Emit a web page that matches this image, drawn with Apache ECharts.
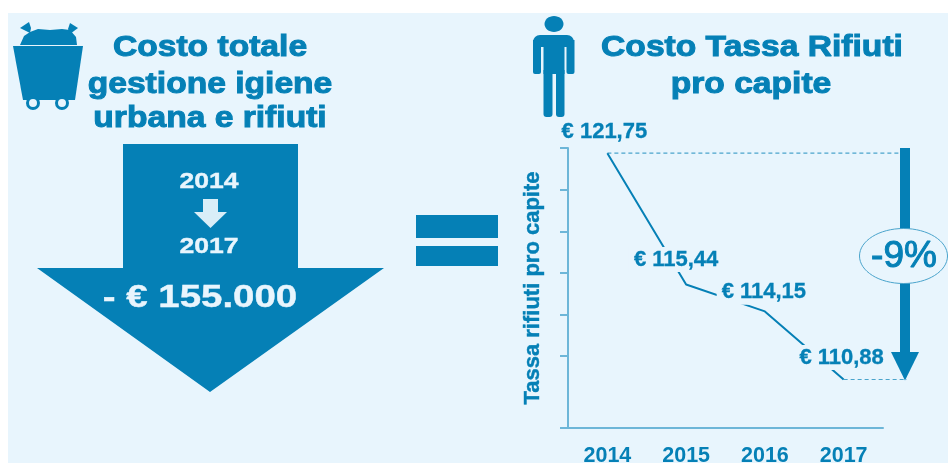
<!DOCTYPE html>
<html>
<head>
<meta charset="utf-8">
<style>html,body{margin:0;padding:0;background:#fff}#c{width:948px;height:463px}</style>
<script src="https://cdn.jsdelivr.net/npm/echarts@6/dist/echarts.min.js"></script>
</head>
<body>
<div id="c"></div>
<script>
// Per-capita waste tax by year
const years = ['2014', '2015', '2016', '2017'];
const taxPerCapita = [121.75, 115.44, 114.15, 110.88];
const tickValues = [108.55, 112, 114, 116, 118, 120, 122];
const axisTitle = 'Tassa rifiuti pro capite';
const leftTitle = ['Costo totale', 'gestione igiene', 'urbana e rifiuti'];
const rightTitle = ['Costo Tassa Rifiuti', 'pro capite'];
const totalSaving = '- € 155.000';
const changeLabel = '-9%';

const DARK = '#0580b6', AXIS = '#6db6d8', PANEL = '#e8f5fd';
const FONT = '"Liberation Sans", Arial, sans-serif';
const labelNudges = [[-3, -8.5], [-10, -12.5], [-1, -6.5], [-2, -9.5]];
const euro = v => '€ ' + v.toFixed(2).replace('.', ',');

const chart = echarts.init(document.getElementById('c'), null, {renderer: 'canvas'});
chart.setOption({
  animation: false,
  backgroundColor: '#fff',
  grid: {left: 568, right: 65, top: 148, bottom: 35, outerBoundsMode: 'none'},
  xAxis: {
    type: 'category', data: years, boundaryGap: true,
    axisLine: {lineStyle: {color: AXIS, width: 2}},
    axisTick: {show: false},
    axisLabel: {color: DARK, fontFamily: FONT, fontWeight: 'bold', fontSize: 21.5, margin: 17}
  },
  yAxis: {
    type: 'value', min: 108.55, max: 122,
    name: axisTitle, nameLocation: 'middle', nameGap: 24,
    nameTextStyle: {color: DARK, fontFamily: FONT, fontWeight: 'bold', fontSize: 22,
      textBorderColor: DARK, textBorderWidth: 0.4},
    splitLine: {show: false},
    axisLabel: {show: false},
    axisLine: {show: true, onZero: false, lineStyle: {color: AXIS, width: 2}},
    axisTick: {show: true, length: 8, customValues: tickValues, lineStyle: {color: AXIS, width: 2}}
  },
  series: [{
    type: 'line', symbol: 'circle', symbolSize: 0.1, showSymbol: true, showAllSymbol: true, clip: false,
    lineStyle: {color: DARK, width: 2},
    itemStyle: {color: DARK},
    data: taxPerCapita.map((v, i) => ({
      value: v,
      label: {offset: labelNudges[i]}
    })),
    label: {
      show: true, position: 'top', distance: 0,
      formatter: p => euro(p.value),
      color: DARK, fontFamily: FONT, fontWeight: 'bold', fontSize: 22, lineHeight: 25,
      textBorderColor: DARK, textBorderWidth: 0.3,
      backgroundColor: PANEL, padding: [0, 5]
    }
  }]
});

const yFirst = chart.convertToPixel({yAxisIndex: 0}, taxPerCapita[0]);
const yLast = chart.convertToPixel({yAxisIndex: 0}, taxPerCapita[3]);
const xFirst = chart.convertToPixel({xAxisIndex: 0}, years[0]);
const xLast = chart.convertToPixel({xAxisIndex: 0}, years[3]);

function heading(text, x, y, sx) {
  return {type: 'text', x, y, scaleX: sx, z: 5, style: {
    text, fill: DARK, stroke: DARK, lineWidth: 1,
    font: 'bold 30px ' + FONT, align: 'center', verticalAlign: 'middle'
  }};
}
function whiteText(text, x, y, size, sx) {
  return {type: 'text', x, y, scaleX: sx, z: 6, style: {
    text, fill: PANEL, stroke: PANEL, lineWidth: 0.4,
    font: 'bold ' + size + 'px ' + FONT, align: 'center', verticalAlign: 'middle'
  }};
}
const poly = (points, fill, z) => ({type: 'polygon', z: z || 5, shape: {points}, style: {fill: fill || DARK}});
const box = (x, y, width, height, r) => ({type: 'rect', z: 5, shape: {x, y, width, height, r: r || 0}, style: {fill: DARK}});
const dashed = (x1, y, x2) => ({type: 'line', z: 3, shape: {x1, y1: y, x2, y2: y},
  style: {stroke: '#4aa4cc', lineWidth: 1.2, lineDash: [4, 3]}});
const ring = (cx, cy) => ({type: 'circle', z: 6, shape: {cx, cy, r: 5.5}, style: {fill: PANEL, stroke: DARK, lineWidth: 3}});

chart.setOption({graphic: {elements: [
  // Panel behind everything
  {type: 'rect', z: -10, shape: {x: 8, y: 13, width: 940, height: 450}, style: {fill: PANEL}},

  // Waste cart icon
  poly([[13, 46], [83, 46], [75, 100], [23, 100]]),
  poly([[20, 45], [24, 36], [30, 32], [38, 29], [50, 30], [62, 29], [70, 30], [76, 37], [77, 45]]),
  poly([[29, 22], [20, 28], [30, 33], [31, 28]]),
  poly([[70, 23], [78, 28], [70, 34], [68, 29]]),
  ring(33, 103), ring(62, 103),

  // Person icon
  {type: 'ellipse', z: 5, shape: {cx: 554, cy: 24, rx: 9.5, ry: 8}, style: {fill: DARK}},
  box(533, 35, 41, 12, [7, 7, 0, 0]),
  box(533, 40, 8, 34, [0, 0, 2, 2]),
  box(566.5, 40, 8, 34, [0, 0, 2, 2]),
  box(543.5, 40, 21, 34),
  box(543.5, 70, 9, 47, [0, 0, 3, 3]),
  box(556, 70, 8.5, 47, [0, 0, 3, 3]),

  // Headings
  heading(leftTitle[0], 210, 48, 1.12),
  heading(leftTitle[1], 210, 85, 1.12),
  heading(leftTitle[2], 210, 119, 1.12),
  heading(rightTitle[0], 752, 48, 1.12),
  heading(rightTitle[1], 751, 85, 1.12),

  // Total cost arrow
  poly([[123, 144], [298, 144], [298, 268], [384, 268], [210, 392], [37, 268], [123, 268]]),
  whiteText(years[0], 209, 182, 22.5, 1.18),
  poly([[203, 199], [218, 199], [218, 212], [227, 212], [210.5, 228], [194, 212], [203, 212]], '#d9eef8', 6),
  whiteText(years[3], 209, 247, 22.5, 1.18),
  whiteText(totalSaving, 200, 298, 32, 1.2),

  // Equals sign
  box(416, 215, 82, 23),
  box(416, 246, 82, 20),

  // Dashed guides and the drop arrow
  dashed(xFirst, yFirst, 901),
  dashed(xLast, yLast, 907),
  box(900, 148, 10, 206),
  poly([[891, 352], [919, 352], [905, yLast + 1]]),
  {type: 'ellipse', z: 7, shape: {cx: 903.5, cy: 256, rx: 44, ry: 27.5}, style: {fill: PANEL, stroke: '#4aa4cc', lineWidth: 1}},
  {type: 'text', x: 904, y: 257, z: 8, style: {text: changeLabel, fill: DARK, stroke: DARK, lineWidth: 1,
    font: '37px ' + FONT, align: 'center', verticalAlign: 'middle'}}
]}});
</script>
</body>
</html>
